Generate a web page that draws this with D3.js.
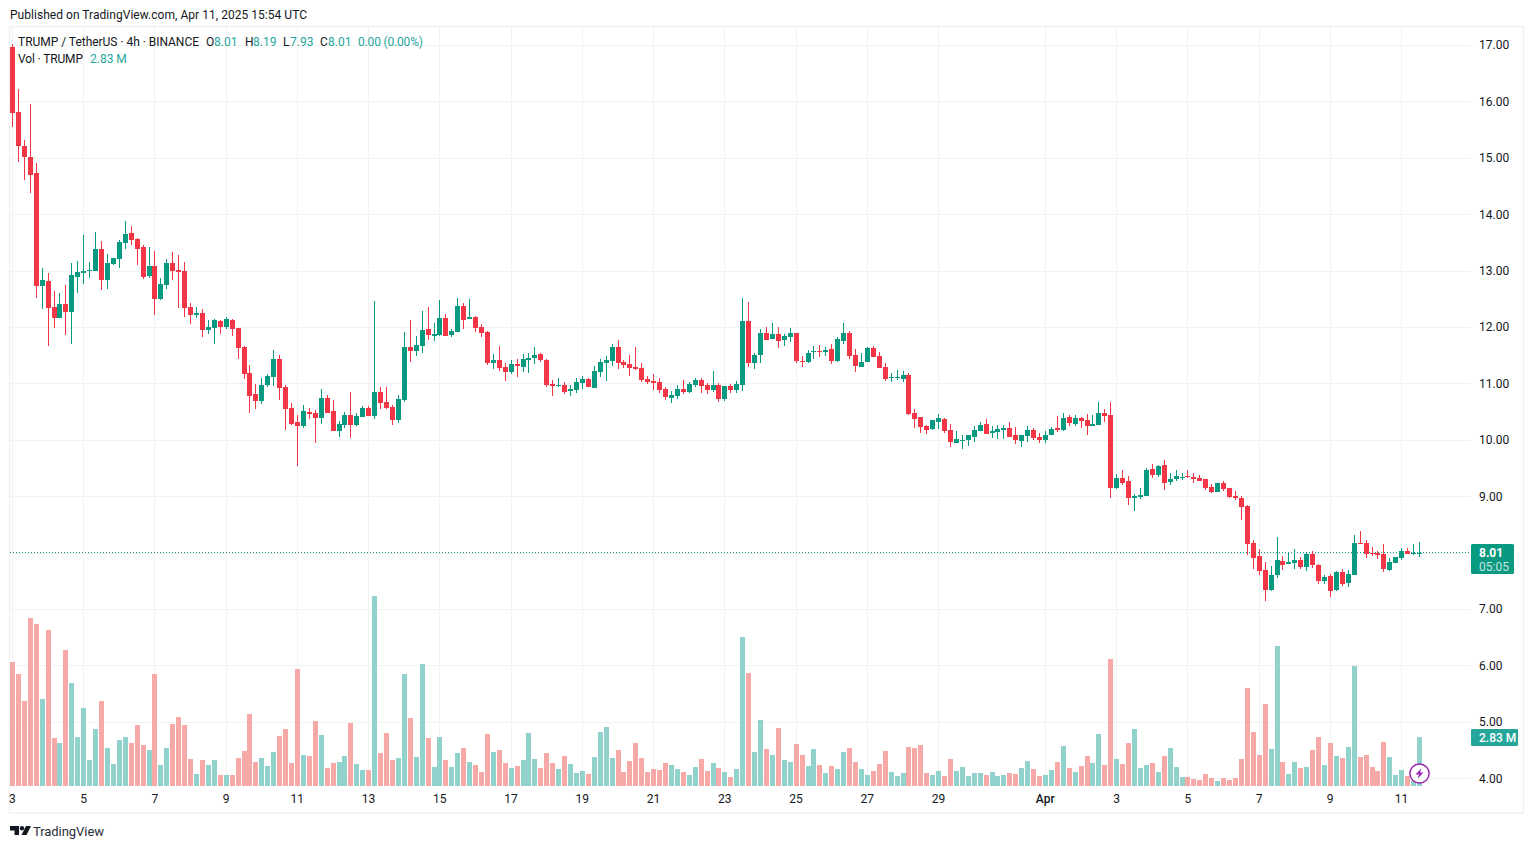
<!DOCTYPE html>
<html><head><meta charset="utf-8">
<script src="https://cdn.jsdelivr.net/npm/d3@7"></script>
<style>
html,body{margin:0;padding:0;background:#fff;overflow:hidden}
text{font-family:Roboto,"Noto Sans",sans-serif}
</style></head><body>
<svg id="c" width="1534" height="849"></svg>
<script>
const opens=[16.97,15.82,15.22,15.02,14.74,12.74,12.82,12.36,12.16,12.42,
12.28,12.90,12.96,13.01,13.00,13.39,12.84,13.13,13.21,13.49,
13.68,13.57,13.43,12.91,13.09,12.51,12.75,13.14,13.02,13.00,
12.36,12.22,12.26,11.96,12.00,12.12,12.01,12.13,11.99,11.65,
11.19,10.82,10.70,10.98,11.12,11.44,10.95,10.57,10.32,10.25,
10.50,10.48,10.39,10.75,10.52,10.17,10.27,10.45,10.27,10.41,
10.57,10.43,10.86,10.68,10.59,10.36,10.71,11.65,11.58,11.67,
11.97,11.85,11.87,12.17,11.87,11.92,12.38,12.15,12.19,12.01,
11.92,11.37,11.42,11.30,11.21,11.35,11.30,11.42,11.46,11.53,
11.42,11.00,10.96,10.98,10.87,10.89,11.02,11.09,10.93,11.21,
11.37,11.41,11.65,11.39,11.35,11.30,11.28,11.09,11.05,11.03,
10.91,10.75,10.79,10.91,10.86,10.98,11.07,10.98,10.89,10.98,
10.73,10.96,10.89,10.98,12.11,11.37,11.51,11.90,11.80,11.88,
11.78,11.83,11.90,11.41,11.39,11.57,11.58,11.57,11.62,11.41,
11.76,11.90,11.51,11.30,11.39,11.64,11.49,11.30,11.10,11.10,
11.09,11.16,10.48,10.41,10.25,10.20,10.32,10.38,10.18,9.95,
10.00,10.00,10.06,10.16,10.29,10.13,10.14,10.18,10.22,10.09,
9.98,10.07,10.18,10.06,10.00,10.09,10.22,10.18,10.41,10.29,
10.39,10.36,10.25,10.27,10.48,10.45,9.15,9.33,9.28,8.98,
9.00,9.01,9.49,9.39,9.56,9.26,9.31,9.33,9.37,9.35,
9.33,9.31,9.17,9.08,9.24,9.15,9.01,8.98,8.84,8.18,
7.95,7.70,7.35,7.61,7.86,7.81,7.82,7.88,7.75,7.98,
7.79,7.51,7.59,7.35,7.66,7.47,7.61,8.18,8.18,8.00,
8.00,7.98,7.70,7.82,7.91,8.04,8.00,8.01];
const closes=[15.81,15.21,15.03,14.71,12.74,12.84,12.35,12.17,12.42,12.28,
12.93,12.98,13.00,13.02,13.39,12.84,13.14,13.23,13.51,13.66,
13.55,13.39,12.90,13.09,12.51,12.77,13.14,13.00,12.98,12.35,
12.22,12.26,11.96,12.01,12.13,12.01,12.15,11.97,11.64,11.18,
10.78,10.70,10.98,11.14,11.44,10.93,10.55,10.29,10.25,10.52,
10.47,10.39,10.75,10.48,10.17,10.29,10.45,10.27,10.43,10.57,
10.43,10.86,10.66,10.57,10.36,10.73,11.65,11.58,11.69,11.96,
11.87,11.88,12.17,11.85,11.94,12.38,12.13,12.19,11.99,11.90,
11.37,11.42,11.28,11.21,11.35,11.32,11.44,11.46,11.51,11.42,
10.98,10.96,10.98,10.86,10.91,11.03,11.09,10.95,11.23,11.39,
11.42,11.65,11.37,11.33,11.28,11.26,11.07,11.03,11.02,10.89,
10.77,10.80,10.91,10.86,11.00,11.07,10.96,10.89,10.98,10.73,
10.96,10.89,11.00,12.11,11.37,11.51,11.90,11.78,11.88,11.76,
11.85,11.90,11.41,11.39,11.55,11.58,11.57,11.60,11.41,11.80,
11.90,11.49,11.32,11.39,11.64,11.48,11.28,11.09,11.12,11.12,
11.16,10.47,10.38,10.24,10.18,10.36,10.39,10.16,9.97,10.02,
10.01,10.09,10.18,10.27,10.11,10.16,10.20,10.22,10.06,10.00,
10.09,10.18,10.04,10.00,10.09,10.20,10.18,10.39,10.31,10.39,
10.34,10.25,10.29,10.48,10.43,9.15,9.33,9.24,8.98,9.01,
9.03,9.47,9.39,9.55,9.24,9.31,9.37,9.35,9.35,9.31,
9.28,9.15,9.08,9.24,9.14,8.99,8.98,8.82,8.16,7.91,
7.68,7.35,7.61,7.88,7.79,7.84,7.88,7.75,7.98,7.79,
7.51,7.58,7.33,7.66,7.45,7.63,8.18,8.16,7.98,7.98,
7.97,7.72,7.84,7.93,8.04,7.98,8.01,8.01];
const highs=[17.03,16.22,15.33,15.96,14.91,13.05,12.96,12.65,12.61,12.75,
13.14,13.18,13.64,13.16,13.69,13.53,13.30,13.24,13.55,13.89,
13.80,13.59,13.46,13.43,13.36,12.88,13.21,13.34,13.28,13.16,
12.43,12.36,12.32,12.13,12.15,12.13,12.19,12.15,11.99,11.67,
11.33,10.99,11.10,11.18,11.60,11.51,10.98,10.66,10.45,10.63,
10.57,10.54,10.91,10.80,10.71,10.34,10.50,10.86,10.48,10.61,
10.61,12.47,10.94,10.94,10.63,10.80,11.92,12.13,11.85,12.29,
12.36,12.08,12.49,12.24,11.97,12.52,12.43,12.50,12.20,12.06,
11.94,11.53,11.67,11.37,11.42,11.44,11.53,11.55,11.65,11.55,
11.44,11.07,11.10,11.03,10.98,11.10,11.14,11.10,11.32,11.44,
11.49,11.71,11.78,11.42,11.51,11.65,11.37,11.14,11.17,11.10,
10.94,10.87,10.98,11.07,11.03,11.10,11.10,11.02,11.23,11.02,
10.96,11.00,11.05,12.52,12.45,11.55,11.97,12.01,12.08,12.01,
11.88,11.99,11.90,11.49,11.60,11.67,11.69,11.65,11.71,11.83,
12.08,11.94,11.62,11.55,11.65,11.67,11.57,11.37,11.19,11.25,
11.23,11.19,10.55,10.41,10.27,10.36,10.47,10.39,10.29,10.16,
10.09,10.09,10.25,10.32,10.38,10.25,10.27,10.27,10.32,10.24,
10.09,10.25,10.22,10.13,10.16,10.24,10.43,10.48,10.45,10.45,
10.41,10.47,10.45,10.68,10.55,10.68,9.40,9.47,9.37,9.05,
9.16,9.51,9.58,9.56,9.65,9.42,9.47,9.42,9.47,9.42,
9.38,9.31,9.22,9.24,9.28,9.15,9.10,9.01,8.85,8.23,
8.07,7.84,7.77,8.29,7.95,8.00,8.07,7.93,8.02,8.04,
7.81,7.61,7.63,7.68,7.72,7.70,8.32,8.39,8.23,8.11,
8.04,8.16,7.91,7.93,8.09,8.09,8.16,8.19];
const lows=[15.56,14.93,14.62,14.39,12.53,12.33,11.68,12.00,12.16,11.87,
11.70,12.62,12.77,12.87,13.00,12.67,12.68,13.11,13.05,13.39,
13.46,13.11,12.86,12.88,12.22,12.49,12.69,12.84,12.35,12.19,
12.06,12.16,11.83,11.89,11.71,11.89,11.97,11.85,11.44,11.09,
10.48,10.55,10.64,10.95,10.96,10.71,10.18,10.27,9.54,10.22,
10.38,9.95,10.29,10.48,10.17,10.06,10.22,10.04,10.25,10.41,
10.43,10.38,10.55,10.55,10.27,10.31,10.68,11.39,11.49,11.55,
11.78,11.76,11.85,11.85,11.83,11.92,11.97,12.15,11.92,11.83,
11.33,11.26,11.23,11.05,11.17,11.12,11.21,11.19,11.35,11.39,
10.94,10.79,10.94,10.82,10.79,10.84,10.91,10.95,10.93,11.12,
11.05,11.32,11.26,11.28,11.14,11.25,11.03,11.00,10.89,10.84,
10.71,10.66,10.73,10.82,10.84,10.94,10.84,10.82,10.86,10.68,
10.70,10.84,10.84,10.87,11.30,11.26,11.37,11.78,11.80,11.64,
11.67,11.74,11.37,11.30,11.37,11.44,11.48,11.49,11.35,11.39,
11.71,11.44,11.21,11.30,11.39,11.48,11.28,11.05,11.03,11.07,
11.03,10.45,10.22,10.13,10.11,10.18,10.20,10.13,9.88,9.95,
9.85,9.90,9.97,10.16,10.11,10.04,10.02,10.02,10.06,9.93,
9.88,9.97,10.00,9.95,9.95,10.09,10.15,10.16,10.25,10.25,
10.22,10.09,10.25,10.27,10.32,8.98,9.14,9.21,8.85,8.75,
8.96,9.01,9.33,9.35,9.12,9.21,9.28,9.30,9.33,9.24,
9.28,9.12,9.07,9.08,9.10,8.98,8.94,8.59,7.97,7.72,
7.61,7.15,7.33,7.56,7.70,7.81,7.72,7.72,7.68,7.73,
7.45,7.45,7.22,7.33,7.42,7.40,7.61,8.16,7.91,7.95,
7.90,7.66,7.68,7.82,7.88,7.98,7.97,7.93];
const volumes=[7.16,6.47,4.91,9.70,9.36,5.02,9.01,2.77,2.48,7.85,
5.95,2.83,4.50,1.50,3.29,4.91,2.19,1.27,2.66,2.83,
2.48,3.52,2.37,2.08,6.47,1.21,2.19,3.58,3.98,3.52,
1.56,0.69,1.50,1.21,1.50,0.64,0.64,0.64,1.62,2.02,
4.16,1.39,1.62,1.16,1.96,2.89,3.29,1.33,6.76,1.79,
1.73,3.75,2.95,1.04,1.33,1.39,1.73,3.64,1.27,0.92,
0.92,10.97,1.91,3.06,1.50,1.62,6.47,3.93,1.67,7.05,
2.77,1.10,2.83,1.50,1.10,1.91,2.19,1.39,1.21,0.81,
3.00,1.96,2.08,1.33,1.04,1.16,1.50,3.06,1.56,1.04,
1.91,1.33,0.98,1.73,1.27,0.75,0.87,0.69,1.67,3.12,
3.41,1.62,2.08,0.81,1.44,2.48,1.62,0.81,0.98,0.92,
1.33,1.21,0.98,0.81,0.64,1.10,1.56,0.87,1.33,1.04,
0.81,0.52,0.98,8.60,6.53,1.96,3.81,2.14,1.79,3.35,
1.50,1.39,2.43,1.79,1.16,2.14,1.21,0.75,1.16,0.98,
1.96,2.19,1.39,0.98,0.64,0.87,1.27,2.02,0.81,0.58,
0.75,2.25,2.19,2.37,0.75,0.64,0.87,0.58,1.56,0.87,
1.10,0.58,0.75,0.75,0.64,0.81,0.58,0.64,0.75,0.69,
1.04,1.44,0.98,0.58,0.64,0.92,1.39,2.31,1.04,0.81,
1.16,1.73,1.33,3.00,1.21,7.33,1.56,1.27,2.48,3.29,
1.04,1.21,1.33,0.81,1.73,2.19,1.10,0.52,0.52,0.40,
0.35,0.69,0.46,0.29,0.46,0.35,0.46,1.56,5.66,3.12,
1.79,4.74,2.14,8.09,1.39,0.69,1.39,1.04,1.10,2.08,
2.83,1.21,2.48,1.73,1.62,2.25,6.93,1.67,1.79,1.10,
0.87,2.54,1.67,0.64,0.92,0.58,0.29,2.83];
const dayLabels=['3','5','7','9','11','13','15','17','19','21','23','25','27','29','Apr','3','5','7','9','11'];
const dayOffsets=[0,2,4,6,8,10,12,14,16,18,20,22,24,26,29,31,33,35,37,39];
const candlesPerDay=6;
const priceTicks=[4,5,6,7,8,9,10,11,12,13,14,15,16,17];
const lastPrice=8.01;
const legendOHLC=[['O','8.01',206,214],['H','8.19',245,253],['L','7.93',283,290],['C','8.01',320,328]];

const RED='#F23645',GREEN='#089981',VRED='#f7a9a7',VGREEN='#92d2cc',GRID='#f2f2f3',INK='#131722';
const svg=d3.select('#c');
const x=d3.scaleLinear().domain([0,opens.length-1]).range([12.5,1419.5]);
const y=d3.scaleLinear().domain([4,17]).range([778.7,45.5]);
const v=d3.scaleLinear().domain([0,2.83]).range([786,737]);
const snap=a=>Math.floor(a)+0.5;

// frame
svg.append('rect').attr('x',9.5).attr('y',26.5).attr('width',1514).attr('height',786.5).attr('fill','none').attr('stroke','#f1f2f4').attr('stroke-width',1.6);

// axes with grid
const tickIdx=dayOffsets.map(d=>d*candlesPerDay);
const gx=svg.append('g').attr('transform','translate(-0.7,786)')
  .call(d3.axisBottom(x).tickValues(tickIdx).tickSize(0).tickPadding(8).tickFormat((d,i)=>dayLabels[i]));
gx.select('.domain').remove();
gx.selectAll('text').attr('fill',INK).style('font-size','12px').style('font-weight',d=>d===29*candlesPerDay?'500':'400');
const gridV=svg.append('g');
gridV.selectAll('line').data(tickIdx).join('line')
  .attr('x1',d=>snap(x(d))).attr('x2',d=>snap(x(d))).attr('y1',27).attr('y2',787)
  .attr('stroke',GRID).attr('stroke-width',1);
const gy=svg.append('g').attr('transform','translate(1470,-0.5)')
  .call(d3.axisRight(y).tickValues(priceTicks).tickSize(0).tickPadding(9).tickFormat(d3.format('.2f')));
gy.select('.domain').remove();
gy.selectAll('text').attr('fill',INK).style('font-size','12px');
const gridH=svg.append('g');
gridH.selectAll('line').data(priceTicks).join('line')
  .attr('x1',10).attr('x2',1470).attr('y1',d=>snap(y(d))).attr('y2',d=>snap(y(d)))
  .attr('stroke',GRID).attr('stroke-width',1);

// volume
const idx=d3.range(opens.length);
const up=i=>closes[i]>=opens[i];
svg.append('g').selectAll('rect').data(idx).join('rect')
  .attr('shape-rendering','crispEdges')
  .attr('x',i=>Math.floor(x(i))-2).attr('width',5)
  .attr('y',i=>v(volumes[i])).attr('height',i=>v(0)-v(volumes[i]))
  .attr('fill',i=>up(i)?VGREEN:VRED);

// dotted last price
svg.append('line').attr('x1',10).attr('x2',1470).attr('y1',snap(y(lastPrice))).attr('y2',snap(y(lastPrice)))
  .attr('stroke',GREEN).attr('stroke-width',1).attr('stroke-dasharray','1 2');

// candles
const gc=svg.append('g').attr('shape-rendering','crispEdges');
gc.selectAll('line').data(idx).join('line')
  .attr('x1',i=>snap(x(i))).attr('x2',i=>snap(x(i)))
  .attr('y1',i=>y(highs[i])).attr('y2',i=>y(lows[i]))
  .attr('stroke',i=>up(i)?GREEN:RED).attr('stroke-width',1);
gc.selectAll('rect').data(idx).join('rect')
  .attr('x',i=>Math.floor(x(i))-2).attr('width',5)
  .attr('y',i=>y(Math.max(opens[i],closes[i])))
  .attr('height',i=>Math.max(1,Math.abs(y(opens[i])-y(closes[i]))))
  .attr('fill',i=>up(i)?GREEN:RED);

// price badges
const b=svg.append('g');
b.append('rect').attr('x',1471).attr('y',544).attr('width',43).attr('height',30).attr('rx',1.5).attr('fill',GREEN);
b.append('text').attr('x',1479).attr('y',556.5).attr('fill','#fff').style('font-size','12px').style('font-weight','700').text('8.01');
b.append('text').attr('x',1479).attr('y',571).attr('fill','#fff').attr('fill-opacity',.78).style('font-size','12px').text('05:05');
b.append('rect').attr('x',1471).attr('y',729).attr('width',47).attr('height',17).attr('rx',1).attr('fill','#26a69a');
b.append('text').attr('x',1479).attr('y',742).attr('fill','#fff').style('font-size','12px').style('font-weight','500').text('2.83 M');

// header + legend
const t=(s,xp,yp,fill,size)=>svg.append('text').attr('x',xp).attr('y',yp).attr('fill',fill||INK).style('font-size',(size||12)+'px').text(s);
t('Published on TradingView.com, Apr 11, 2025 15:54 UTC',10,19).attr('textLength',297);
t('TRUMP / TetherUS · 4h · BINANCE',18,46).attr('textLength',181);
legendOHLC.forEach(([k,val,a,c])=>{t(k,a,46);t(val,c,46,'#26a69a');});
t('0.00 (0.00%)',358,46,'#26a69a').attr('textLength',65);
t('Vol · TRUMP',18,63).attr('textLength',65);
t('2.83 M',90,63,'#26a69a');

// bolt icon
const ic=svg.append('g').attr('transform','translate(1419.5,773.5)');
ic.append('circle').attr('r',9.6).attr('fill','#fff').attr('stroke','#9c27b0').attr('stroke-width',1.5);
ic.append('path').attr('d','M1.8,-5.2 L-4,1 L-0.6,1 L-2,5.2 L4,-1 L0.6,-1 Z').attr('fill','#9c27b0');

// logo
const lg=svg.append('g').attr('transform','translate(10,826)').attr('fill',INK);
lg.append('path').attr('d','M0,0 H9 V9 H4.5 V4.5 H0 Z');
lg.append('circle').attr('cx',12).attr('cy',2.2).attr('r',2.2);
lg.append('path').attr('d','M16,0 H21 L16.5,9 H11.5 Z');
t('TradingView',33,836,'#2a2e39',13).attr('textLength',71);
</script></body></html>
